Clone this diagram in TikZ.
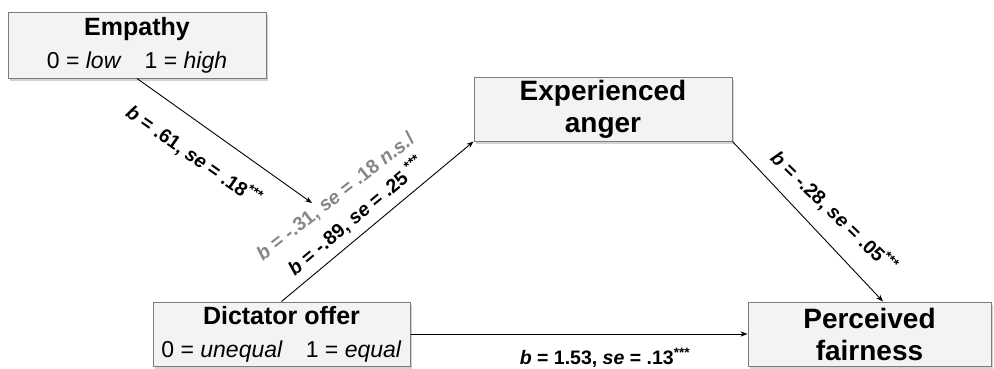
\documentclass[tikz,border=0pt]{standalone}
\usepackage{fontspec}
\setmainfont{Liberation Sans}
\usepackage{tikz}
\usetikzlibrary{calc, positioning, arrows.meta, shadows}
\definecolor{boxfill}{RGB}{243, 243, 243}
\definecolor{boxline}{RGB}{125, 125, 125}
\definecolor{nsgray}{RGB}{135, 135, 135}

\newcommand{\titlefont}{\fontsize{25}{33}\selectfont\bfseries}
\newcommand{\bigtitlefont}{\fontsize{28}{32}\selectfont\bfseries}
\newcommand{\codefont}{\fontsize{23}{33}\selectfont\mdseries}
\newcommand{\coef}[2]{\textit{b} = #1, \textit{se} = #2}

\begin{document}
\begin{tikzpicture}[x=1pt, y=-1pt, >=Stealth,
    varbox/.style={draw=boxline, fill=boxfill, line width=1pt, inner sep=0pt, align=center,
      drop shadow={shadow xshift=2pt, shadow yshift=-3pt, fill=black!35}},
    coeflabel/.style={font=\fontsize{19.5}{22}\selectfont\bfseries, inner sep=0pt},
    link/.style={->, line width=0.9pt}]
  \useasboundingbox (0, 0) rectangle (994, 368);

  % Variables
  \node[varbox, font=\titlefont, minimum width=258pt, minimum height=66pt] (empathy) at (137, 45)
    {Empathy\\{\codefont 0 = \textit{low}\hspace{1em}1 = \textit{high}}};
  \node[varbox, font=\titlefont, minimum width=257pt, minimum height=64pt] (offer) at (281.5, 334)
    {Dictator offer\\{\codefont 0 = \textit{unequal}\hspace{1em}1 = \textit{equal}}};
  \node[varbox, font=\bigtitlefont, minimum width=258pt, minimum height=64pt] (anger) at (603, 109)
    {Experienced\\anger};
  \node[varbox, font=\bigtitlefont, minimum width=243pt, minimum height=64pt] (fairness) at (869.5, 334)
    {Perceived\\fairness};

  % Paths
  \coordinate (modtip) at (312, 203);
  \draw[link] (empathy.south) -- (modtip);
  \draw[link] (offer.north) -- (anger.south west);
  \draw[link] (anger.south east) -- ($(fairness.north)+(13.5, 0)$);
  \draw[link] (offer.east) -- (fairness.west);

  % Coefficients
  \node[coeflabel, rotate=-35] (bmod) at (194, 156) {\coef{.61}{.18\textsuperscript{***}}};
  \node[coeflabel, rotate=38, text=nsgray] (bns) at (336, 197)
    {\coef{-.31}{.18 \textit{n.s.}/}};
  \node[coeflabel, rotate=40] (bmain) at (356, 216) {\coef{-.89}{.25 \textsuperscript{***}}};
  \node[coeflabel, rotate=-44] (banger) at (834, 212) {\coef{-.28}{.05\textsuperscript{***}}};
  \node[coeflabel] (bdirect) at (605, 358) {\coef{1.53}{.13\textsuperscript{***}}};
\end{tikzpicture}
\end{document}
